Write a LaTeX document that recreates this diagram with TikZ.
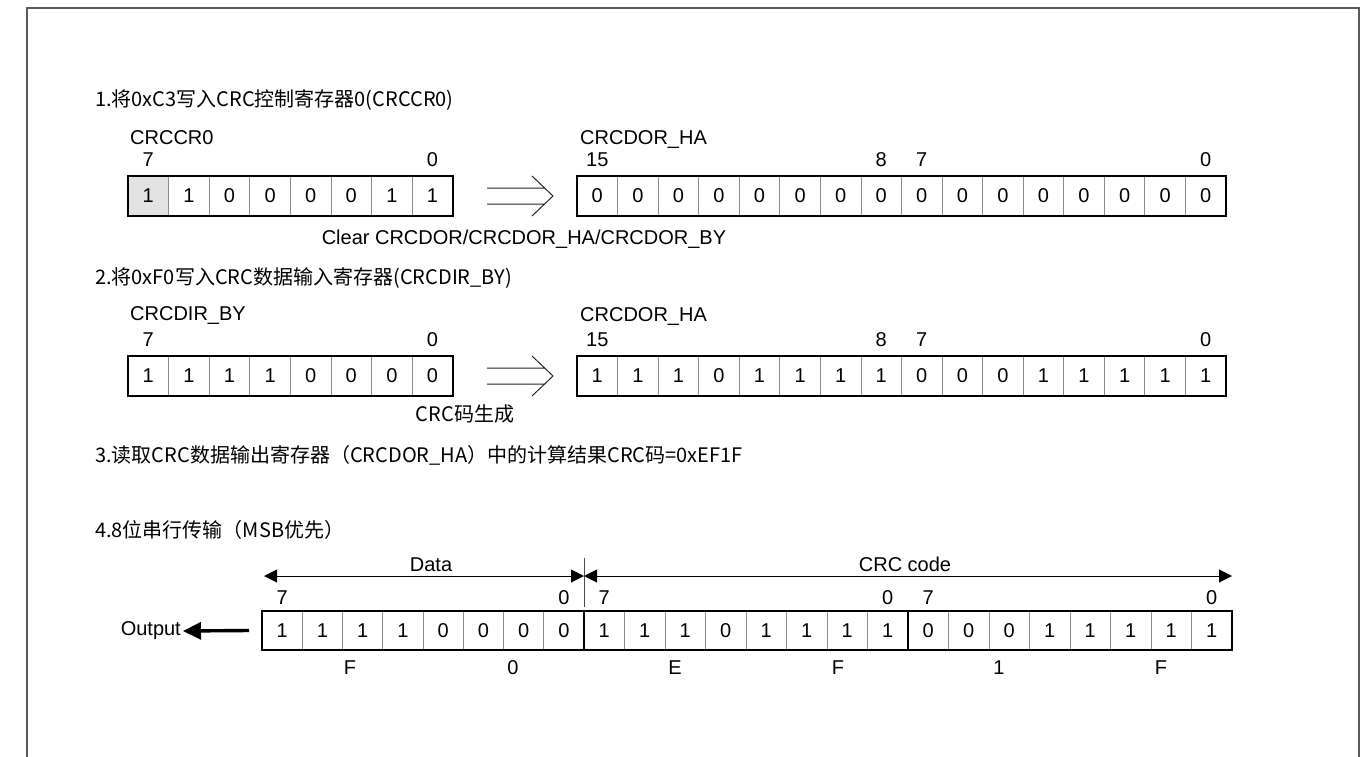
\documentclass[tikz,border=0pt]{standalone}
\usepackage{fontspec}
\setmainfont{Liberation Sans}
\newfontfamily\cjk{Noto Sans CJK SC}
\usetikzlibrary{arrows.meta,calc}
\newcommand\entxt{\fontsize{20}{23}\selectfont}
\newcommand\cjktxt{\cjk\fontsize{20}{24}\selectfont}
\definecolor{divgray}{HTML}{8C8C8C}
\definecolor{framegray}{HTML}{5A5A5A}
\definecolor{firstcell}{HTML}{E3E3E3}
\tikzset{
  cell/.style={draw=divgray, line width=0.8pt, minimum height=40pt, inner sep=0pt, outer sep=0pt, anchor=north west, font=\entxt},
  regborder/.style={draw=black, line width=1.4pt},
  lbl/.style={font=\entxt, inner sep=0pt},
  cjklbl/.style={font=\cjktxt, inner sep=0pt},
  dblarrow/.style={draw=black!85, line width=1pt},
  dimarrow/.style={line width=1pt, {Triangle[length=13pt,width=13pt]}-{Triangle[length=13pt,width=13pt]}},
  framestyle/.style={draw=framegray, line width=1.6pt}
}
\begin{document}
\begin{tikzpicture}[x=1pt,y=-1pt]
\useasboundingbox (0,0) rectangle (1370,757);
% frame
\draw[framestyle] (27,770) -- (27,8) -- (1359,8) -- (1359,770);

% ---------- section 1 ----------
\node[cjklbl, anchor=base west] (t1) at (95,107) {1.将0xC3写入CRC控制寄存器0(CRCCR0)};
\foreach \b/\f [count=\i from 0] in {1/firstcell,1/none,0/none,0/none,0/none,0/none,1/none,1/none}
  \node[cell, minimum width=40.6pt, fill=\f] (ra\i) at ({128+\i*40.6},176) {\b};
\draw[regborder] (ra0.north west) rectangle (ra7.south east);
\node[lbl, anchor=base west] (ra-name) at ([xshift=2pt,yshift=32pt]ra0.north west) {CRCCR0};
\node[lbl, anchor=base] (ra-h) at ([yshift=10pt]ra0.north) {7};
\node[lbl, anchor=base] (ra-l) at ([yshift=10pt]ra7.north) {0};

\foreach \b [count=\i from 0] in {0,0,0,0,0,0,0,0,0,0,0,0,0,0,0,0}
  \node[cell, minimum width=40.56pt] (rb\i) at ({577+\i*40.56},176) {\b};
\draw[regborder] (rb0.north west) rectangle (rb15.south east);
\node[lbl, anchor=base west] (rb-name) at ([xshift=3pt,yshift=32pt]rb0.north west) {CRCDOR\_HA};
\node[lbl, anchor=base] (rb-15) at ([yshift=10pt]rb0.north) {15};
\node[lbl, anchor=base] (rb-8) at ([yshift=10pt]rb7.north) {8};
\node[lbl, anchor=base] (rb-7) at ([yshift=10pt]rb8.north) {7};
\node[lbl, anchor=base] (rb-0) at ([yshift=10pt]rb15.north) {0};

\node[lbl, anchor=base] (clr) at (524,244) {Clear CRCDOR/CRCDOR\_HA/CRCDOR\_BY};

% ---------- section 2 ----------
\node[cjklbl, anchor=base west] (t2) at (95,284) {2.将0xF0写入CRC数据输入寄存器(CRCDIR\_BY)};
\foreach \b [count=\i from 0] in {1,1,1,1,0,0,0,0}
  \node[cell, minimum width=40.6pt] (rc\i) at ({128+\i*40.6},356) {\b};
\draw[regborder] (rc0.north west) rectangle (rc7.south east);
\node[lbl, anchor=base west] (rc-name) at ([xshift=2pt,yshift=36pt]rc0.north west) {CRCDIR\_BY};
\node[lbl, anchor=base] (rc-h) at ([yshift=10pt]rc0.north) {7};
\node[lbl, anchor=base] (rc-l) at ([yshift=10pt]rc7.north) {0};

\foreach \b [count=\i from 0] in {1,1,1,0,1,1,1,1,0,0,0,1,1,1,1,1}
  \node[cell, minimum width=40.56pt] (rd\i) at ({577+\i*40.56},356) {\b};
\draw[regborder] (rd0.north west) rectangle (rd15.south east);
\node[lbl, anchor=base west] (rd-name) at ([xshift=3pt,yshift=35pt]rd0.north west) {CRCDOR\_HA};
\node[lbl, anchor=base] (rd-15) at ([yshift=10pt]rd0.north) {15};
\node[lbl, anchor=base] (rd-8) at ([yshift=10pt]rd7.north) {8};
\node[lbl, anchor=base] (rd-7) at ([yshift=10pt]rd8.north) {7};
\node[lbl, anchor=base] (rd-0) at ([yshift=10pt]rd15.north) {0};

\node[cjklbl, anchor=base] (gen) at (465,421) {CRC码生成};

% double arrows between registers
\foreach \yc/\nm in {196/one,376/two} {
  \coordinate (da-\nm) at (487,\yc);
  \draw[dblarrow] (487,{\yc-8}) -- (545,{\yc-8}) (487,{\yc+8}) -- (545,{\yc+8})
        (532,{\yc-20}) -- (553,\yc) -- (532,{\yc+20});
}

% ---------- section 3 ----------
\node[cjklbl, anchor=base west] (t3) at (95,462) {3.读取CRC数据输出寄存器（CRCDOR\_HA）中的计算结果CRC码=0xEF1F};

% ---------- section 4 ----------
\node[cjklbl, anchor=base west] (t4) at (95,537) {4.8位串行传输（MSB优先）};

\foreach \b [count=\i from 0] in {1,1,1,1,0,0,0,0}
  \node[cell, minimum width=40.25pt, minimum height=39pt] (re\i) at ({262+\i*40.25},611) {\b};
\foreach \b [count=\i from 0] in {1,1,1,0,1,1,1,1,0,0,0,1,1,1,1,1}
  \node[cell, minimum width=40.5pt, minimum height=39pt] (rf\i) at ({584+\i*40.5},611) {\b};
\draw[regborder] (re0.north west) rectangle (rf15.south east);
\draw[line width=1.1pt] (rf0.north west) -- (rf0.south west);
\draw[line width=1.1pt] (rf8.north west) -- (rf8.south west);

\node[lbl, anchor=base] (re-h) at ([yshift=7pt]re0.north) {7};
\node[lbl, anchor=base] (re-l) at ([yshift=7pt]re7.north) {0};
\node[lbl, anchor=base] (rf-h1) at ([yshift=7pt]rf0.north) {7};
\node[lbl, anchor=base] (rf-l1) at ([yshift=7pt]rf7.north) {0};
\node[lbl, anchor=base] (rf-h2) at ([yshift=7pt]rf8.north) {7};
\node[lbl, anchor=base] (rf-l2) at ([yshift=7pt]rf15.north) {0};

% hex digits
\node[lbl, anchor=base] (hx1) at (350,674) {F};
\node[lbl, anchor=base] (hx2) at (513,674) {0};
\node[lbl, anchor=base] (hx3) at (675,674) {E};
\node[lbl, anchor=base] (hx4) at (838,674) {F};
\node[lbl, anchor=base] (hx5) at (999,674) {1};
\node[lbl, anchor=base] (hx6) at (1161,674) {F};

% dimension arrows
\coordinate (dl) at (264,576);
\coordinate (dm) at (584,576);
\coordinate (dr) at (1232,576);
\draw[dimarrow] (dl) -- (dm);
\draw[dimarrow] (dm) -- (dr);
\coordinate (tkt) at (584,558);
\coordinate (tkb) at (584,607);
\draw[line width=0.8pt, black!70] (tkt) -- (tkb);
\node[lbl, anchor=base] (datalbl) at (431,571) {Data};
\node[lbl, anchor=base] (crclbl) at (905,571) {CRC code};

% output
\node[lbl, anchor=east, inner sep=2pt] (out) at (183,631) {Output};
\coordinate (oa) at ([xshift=-13pt]re0.west);
\draw[line width=3.4pt, -{Triangle[length=18pt,width=17pt]}] (oa) -- (out.east);
\end{tikzpicture}
\end{document}
